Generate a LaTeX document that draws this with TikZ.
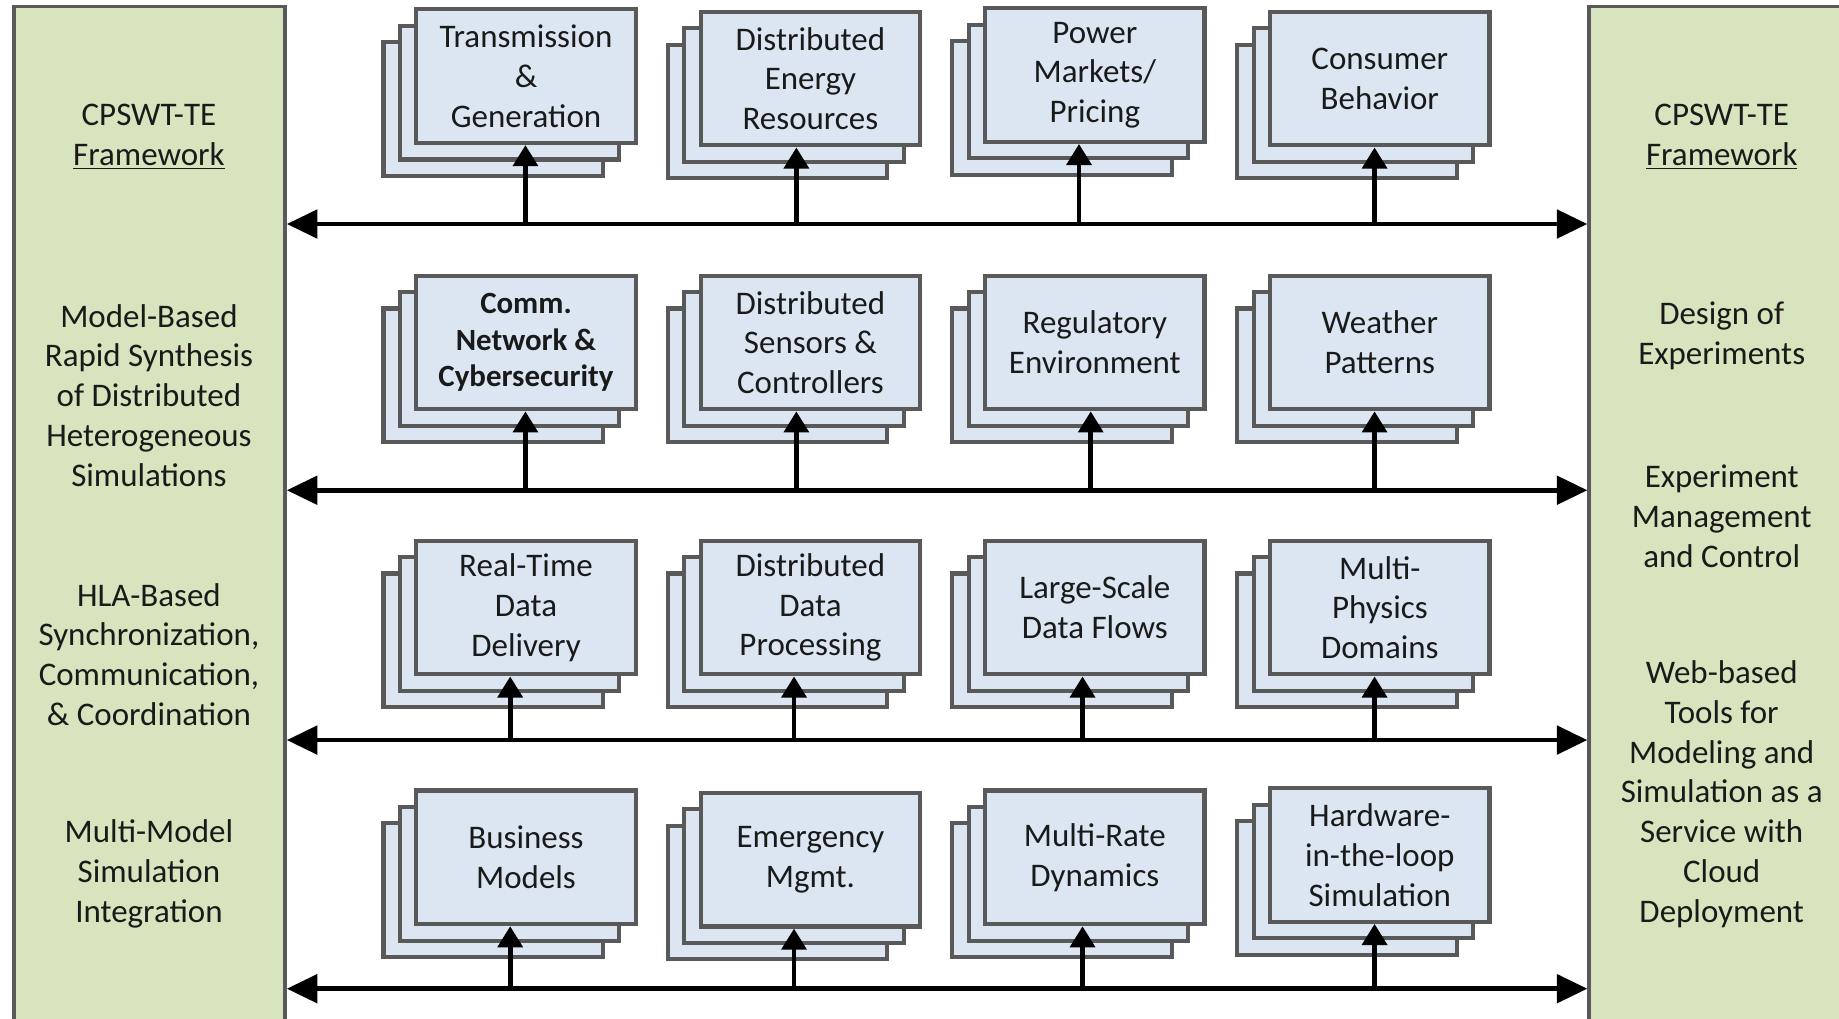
\documentclass[tikz,border=0pt]{standalone}
\usepackage{fontspec}
\setmainfont{Carlito}
\usetikzlibrary{arrows.meta}
\definecolor{pgreen}{HTML}{D7E4BD}
\definecolor{pblue}{HTML}{DCE6F2}
\definecolor{bgray}{HTML}{595959}
\definecolor{tblack}{HTML}{1A1A1A}
\newcommand\stk[5][]{%
  \node[boxst] (#2c) at (#3-28,#4+28) {};
  \node[boxst] (#2b) at (#3-14,#4+14) {};
  \node[boxst,#1] (#2) at (#3,#4) {#5};
}
\begin{document}
\begin{tikzpicture}[x=0.02cm,y=-0.02cm,
  panel/.style={draw=bgray, fill=pgreen, line width=1.8pt, minimum width=4.62cm, minimum height=17.5cm, inner sep=0pt},
  boxst/.style={draw=bgray, fill=pblue, line width=2pt, minimum width=3.74cm, minimum height=2.28cm, inner sep=0pt, align=center, font=\fontsize{16}{19.3}\selectfont, text=tblack},
  boldtxt/.style={font=\bfseries\fontsize{15}{17.6}\selectfont},
  ptext/.style={align=center, font=\fontsize{16}{19.3}\selectfont, text=tblack},
  bus/.style={line width=2.3pt, {Triangle[length=0.52cm,width=0.48cm]}-{Triangle[length=0.52cm,width=0.48cm]}},
  uparr/.style={line width=2.3pt, -{Triangle[length=0.36cm,width=0.42cm]}}]
\clip (0,0) rectangle (1568,868);
\fill[white] (0,0) rectangle (1568,868);
% panels
\node[panel] (L) at (127.5,443) {};
\node[panel, minimum width=4.5cm] (R) at (1467.5,443) {};
% panel texts
\node[ptext] (l1) at (127,117) {CPSWT-TE\\\underline{Framework}};
\node[ptext] (l2) at (127,337) {Model-Based\\Rapid Synthesis\\of Distributed\\Heterogeneous\\Simulations};
\node[ptext] (l3) at (127,558) {HLA-Based\\Synchronization,\\Communication,\\\& Coordination};
\node[ptext] (l4) at (127,745) {Multi-Model\\Simulation\\Integration};
\node[ptext] (r1) at (1468,117) {CPSWT-TE\\\underline{Framework}};
\node[ptext] (r2) at (1468,286) {Design of\\Experiments};
\node[ptext] (r3) at (1468,440) {Experiment\\Management\\and Control};
\node[ptext] (r4) at (1468,677) {Web-based\\Tools for\\Modeling and\\Simulation as a\\Service with\\Cloud\\Deployment};
% stacks row 1
\stk{F11}{448.5}{65}{Transmission\\\&\\Generation}
\stk{F12}{691}{67}{Distributed\\Energy\\Resources}
\stk{F13}{933.5}{64}{Power\\Markets/\\Pricing}
\stk{F14}{1176.5}{67}{Consumer\\Behavior}
% row 2
\stk[boldtxt]{F21}{448.5}{292}{Comm.\\Network \&\\Cybersecurity}
\stk{F22}{691}{292}{Distributed\\Sensors \&\\Controllers}
\stk{F23}{933.5}{292}{Regulatory\\Environment}
\stk{F24}{1176.5}{292}{Weather\\Patterns}
% row 3
\stk{F31}{448.5}{518}{Real-Time\\Data\\Delivery}
\stk{F32}{691}{518}{Distributed\\Data\\Processing}
\stk{F33}{933.5}{518}{Large-Scale\\Data Flows}
\stk{F34}{1176.5}{518}{Multi-\\Physics\\Domains}
% row 4
\stk{F41}{448.5}{731}{Business\\Models}
\stk{F42}{691}{733}{Emergency\\Mgmt.}
\stk{F43}{933.5}{731}{Multi-Rate\\Dynamics}
\stk{F44}{1176.5}{729}{Hardware-\\in-the-loop\\Simulation}
% bus levels
\coordinate (y1) at (0,191);
\coordinate (y2) at (0,418);
\coordinate (y3) at (0,631);
\coordinate (y4) at (0,843);
\draw[bus] (L.east |- y1) -- (R.west |- y1);
\draw[bus] (L.east |- y2) -- (R.west |- y2);
\draw[bus] (L.east |- y3) -- (R.west |- y3);
\draw[bus] (L.east |- y4) -- (R.west |- y4);
% up arrows
\coordinate (a11) at (448,191);
\coordinate (a12) at (679,191);
\coordinate (a13) at (920,191);
\coordinate (a14) at (1172,191);
\coordinate (a21) at (448,418);
\coordinate (a22) at (679,418);
\coordinate (a23) at (930,418);
\coordinate (a24) at (1172,418);
\coordinate (a31) at (435,631);
\coordinate (a32) at (677,631);
\coordinate (a33) at (923,631);
\coordinate (a34) at (1172,631);
\coordinate (a41) at (435,843);
\coordinate (a42) at (677,843);
\coordinate (a43) at (923,843);
\coordinate (a44) at (1172,843);
\foreach \r in {1,2,3,4}{
  \foreach \c in {1,2,3,4}{
    \draw[uparr] (a\r\c) -- (a\r\c |- F\r\c.south);
  }
}
\end{tikzpicture}
\end{document}
